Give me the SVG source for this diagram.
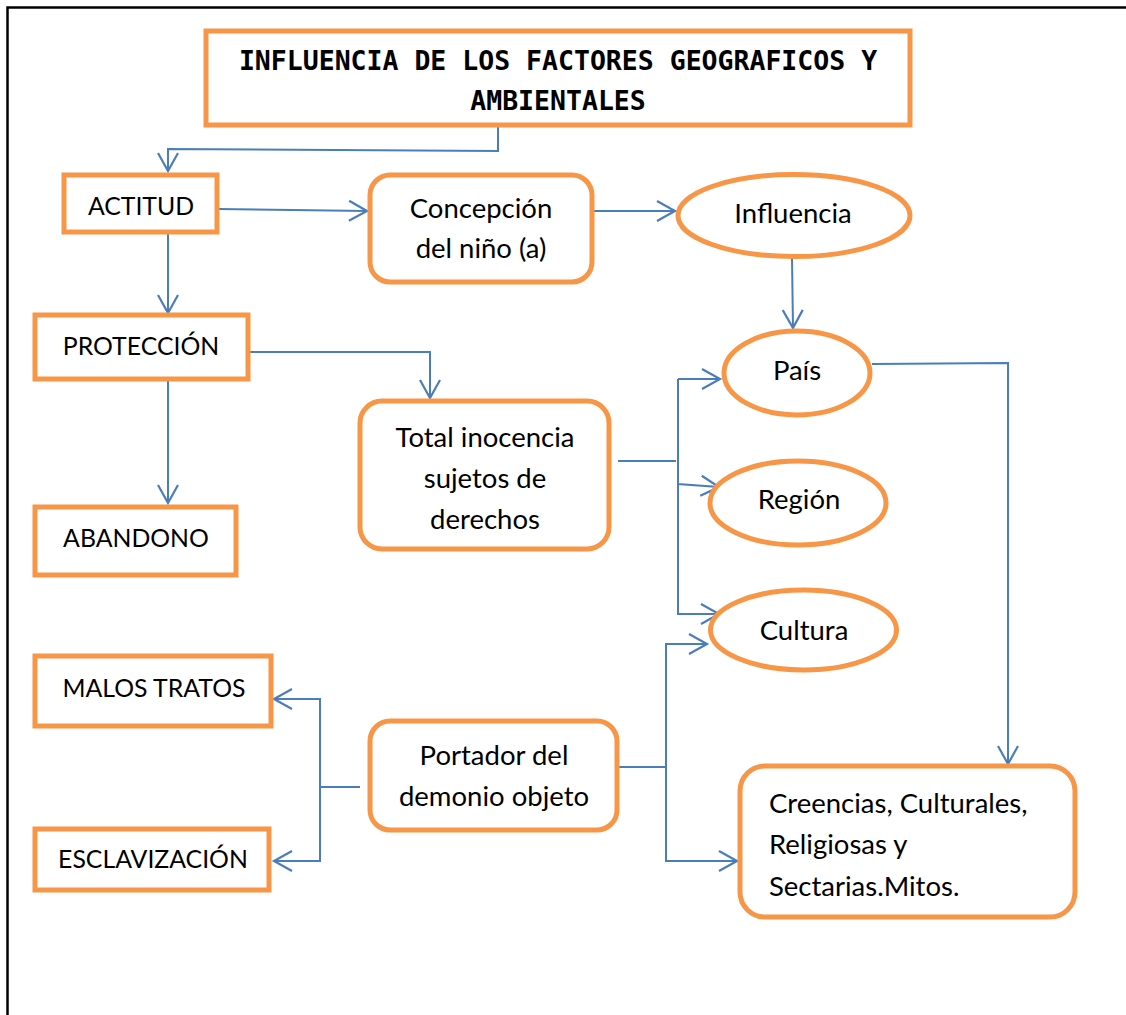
<svg xmlns="http://www.w3.org/2000/svg" width="1126" height="1015" viewBox="0 0 1126 1015">
<style>
.box{fill:#fff;stroke:#F79646;stroke-width:5}
.lbl{font-family:Lato,"Liberation Sans",sans-serif;font-size:27.5px;fill:#000;text-anchor:middle}
.cap{font-size:24.8px}
.lft{text-anchor:start}
.ttl{font-family:"DejaVu Sans Mono","Liberation Mono",monospace;font-weight:bold;font-size:26.5px;fill:#000;text-anchor:middle}
.ln{fill:none;stroke:#4A7EBB;stroke-width:2}
.ar{fill:none;stroke:#4A7EBB;stroke-width:2;marker-end:url(#arr)}
</style>
<defs>
<marker id="arr" markerUnits="userSpaceOnUse" markerWidth="24" markerHeight="26" refX="21" refY="12" orient="auto" viewBox="0 0 24 26">
<path d="M3,2 L21,12 L3,22" fill="none" stroke="#4A7EBB" stroke-width="2.2"/>
</marker>
</defs>
<rect width="1126" height="1015" fill="#fff"/>
<g id="frame"><path d="M7.5,1015 V7.5 H1126" fill="none" stroke="#000" stroke-width="2.5"/></g>

<g id="connectors">
<path class="ar" d="M498,125 V151 L168,149 V171"/>
<path class="ar" d="M218,209 L367,211"/>
<path class="ar" d="M592,211 H675"/>
<path class="ar" d="M792,258 L793,328"/>
<path class="ar" d="M168,232 V313"/>
<path class="ar" d="M168,379 V503"/>
<path class="ar" d="M248,352 H430 V398"/>
<path class="ln" d="M618,461 H676"/>
<path class="ar" d="M678,379 H720"/>
<path class="ar" d="M678,379 V484 L719,487"/>
<path class="ar" d="M678,484 V614 H719"/>
<path class="ar" d="M872,364 L1008,363 V764"/>
<path class="ln" d="M360,787 H320"/>
<path class="ar" d="M320,787 V699 H274"/>
<path class="ar" d="M320,787 V861 H274"/>
<path class="ln" d="M617,767 H666"/>
<path class="ar" d="M666,767 V644 H707"/>
<path class="ar" d="M666,767 V861 H737"/>
</g>

<g id="title">
<rect class="box" x="206" y="31" width="704" height="94"/>
<text class="ttl" x="558" y="70">INFLUENCIA DE LOS FACTORES GEOGRAFICOS Y</text>
<text class="ttl" x="558" y="110">AMBIENTALES</text>
</g>
<g id="actitud">
<rect class="box" x="64" y="175" width="153" height="57"/>
<text class="lbl cap" x="141" y="215">ACTITUD</text>
</g>
<g id="concepcion">
<rect class="box" x="370" y="175" width="222" height="107" rx="20"/>
<text class="lbl" x="481" y="218">Concepción</text>
<text class="lbl" x="481" y="258">del niño (a)</text>
</g>
<g id="influencia">
<ellipse class="box" cx="794" cy="215.5" rx="116" ry="41"/>
<text class="lbl" x="793" y="223">Influencia</text>
</g>
<g id="proteccion">
<rect class="box" x="35" y="315" width="213" height="64"/>
<text class="lbl cap" x="141" y="355">PROTECCIÓN</text>
</g>
<g id="total">
<rect class="box" x="360" y="401" width="249" height="148" rx="22"/>
<text class="lbl" x="485" y="447">Total inocencia</text>
<text class="lbl" x="485" y="488">sujetos de</text>
<text class="lbl" x="485" y="529">derechos</text>
</g>
<g id="pais">
<ellipse class="box" cx="797" cy="373" rx="73" ry="42"/>
<text class="lbl" x="797" y="380">País</text>
</g>
<g id="region">
<ellipse class="box" cx="798" cy="503" rx="88" ry="42"/>
<text class="lbl" x="799" y="509">Región</text>
</g>
<g id="cultura">
<ellipse class="box" cx="803.5" cy="630" rx="93" ry="40"/>
<text class="lbl" x="804" y="640">Cultura</text>
</g>
<g id="abandono">
<rect class="box" x="35" y="507" width="201" height="68"/>
<text class="lbl cap" x="136" y="547">ABANDONO</text>
</g>
<g id="malos">
<rect class="box" x="35" y="656" width="236" height="70"/>
<text class="lbl cap" x="154" y="697">MALOS TRATOS</text>
</g>
<g id="esclavizacion">
<rect class="box" x="35" y="829" width="234" height="61"/>
<text class="lbl cap" x="153" y="868">ESCLAVIZACIÓN</text>
</g>
<g id="portador">
<rect class="box" x="370" y="721" width="247" height="109" rx="20"/>
<text class="lbl" x="494" y="765">Portador del</text>
<text class="lbl" x="494" y="806">demonio objeto</text>
</g>
<g id="creencias">
<rect class="box" x="740" y="766" width="335" height="151" rx="25"/>
<text class="lbl lft" x="769" y="813">Creencias, Culturales,</text>
<text class="lbl lft" x="769" y="854">Religiosas y</text>
<text class="lbl lft" x="769" y="896">Sectarias.Mitos.</text>
</g>
</svg>
